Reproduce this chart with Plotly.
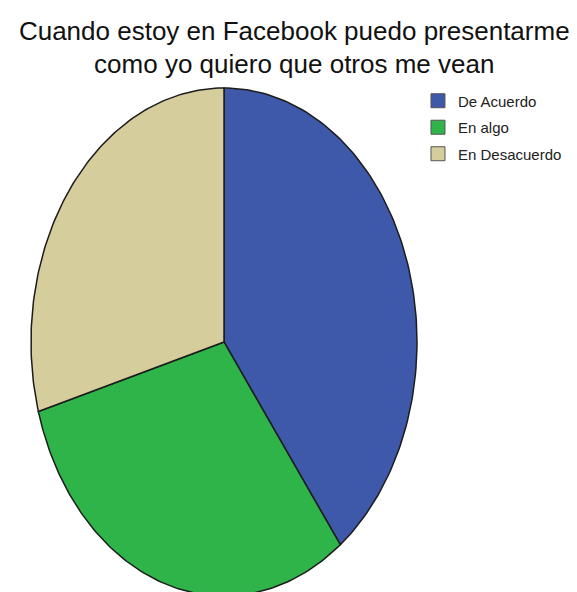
import numpy as np
import plotly.graph_objects as go

# Data (counts)
categories = ["De Acuerdo", "En algo", "En Desacuerdo"]
counts = [27, 21, 20]
colors = ["#3e58aa", "#2eb449", "#d5cd9b"]

title_text = "Cuando estoy en Facebook puedo presentarme<br>como yo quiero que otros me vean"

total = float(sum(counts))
fig = go.Figure()

# Slices drawn clockwise from 12 o'clock on a stretched cartesian frame
start = np.pi / 2
for name, val, col in zip(categories, counts, colors):
    sweep = 2 * np.pi * val / total
    th = np.linspace(start, start - sweep, 120)
    xs = np.concatenate([[0.0], np.cos(th), [0.0]])
    ys = np.concatenate([[0.0], np.sin(th), [0.0]])
    fig.add_trace(go.Scatter(
        x=xs, y=ys, mode="lines", fill="toself", fillcolor=col,
        line=dict(color="#1c1c1c", width=1.5),
        showlegend=False, hoverinfo="text", text=f"{name}: {val}",
        legendgroup=name,
    ))
    start -= sweep

# Legend entries
for name, col in zip(categories, colors):
    fig.add_trace(go.Scatter(
        x=[None], y=[None], mode="markers", name=name, legendgroup=name,
        marker=dict(symbol="square", size=14, color=col,
                    line=dict(color="#555555", width=1)),
    ))

fig.update_layout(
    width=577, height=592,
    margin=dict(l=0, r=0, t=60, b=0),
    paper_bgcolor="white", plot_bgcolor="white",
    title=dict(text=title_text, x=0.51, xanchor="center",
               y=1 - 39.5 / 592, yanchor="middle", yref="container",
               font=dict(family="Liberation Sans, Arial, sans-serif", size=26, color="#111111")),
    xaxis=dict(range=[-1.1606, 1.829], visible=False, fixedrange=True),
    yaxis=dict(range=[-0.9843, 1.1102], visible=False, fixedrange=True),
    legend=dict(x=0.7244, xanchor="left", y=0.954, yanchor="top",
                font=dict(family="Liberation Sans, Arial, sans-serif", size=15, color="#222222"),
                tracegroupgap=4, bgcolor="rgba(0,0,0,0)"),
    showlegend=True,
)

fig.write_html("out.html", config={"displayModeBar": False},
               post_script="document.body.style.margin='0';document.body.style.overflow='hidden';")
